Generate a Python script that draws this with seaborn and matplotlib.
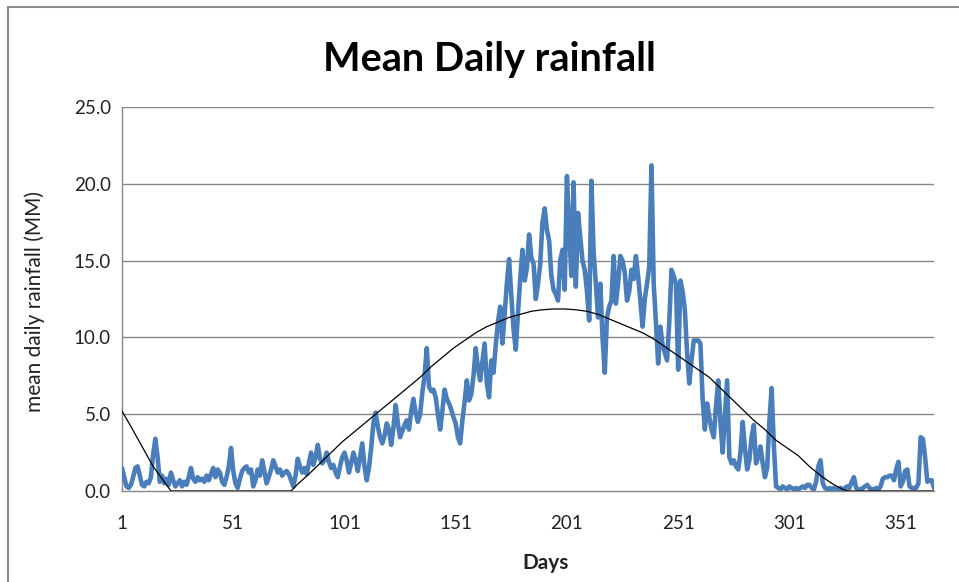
import matplotlib
matplotlib.use("Agg")
import matplotlib.pyplot as plt
from matplotlib.lines import Line2D
import numpy as np
import pandas as pd
import seaborn as sns

# ---- data ----
days = list(range(1, 367))
rain = [
    1.5, 0.9, 0.3, 0.2, 0.4, 0.9, 1.5, 1.6, 1.0, 0.4,
    0.3, 0.6, 0.5, 0.9, 2.4, 3.4, 2.2, 0.6, 1.0, 0.5,
    0.8, 0.4, 1.2, 0.7, 0.3, 0.5, 0.7, 0.3, 0.6, 0.4,
    0.9, 1.5, 0.8, 0.6, 0.9, 0.7, 0.8, 0.6, 1.0, 0.7,
    1.1, 1.5, 0.9, 1.4, 1.2, 0.6, 0.4, 0.9, 1.6, 2.8,
    1.3, 0.5, 0.2, 0.8, 1.3, 1.5, 1.6, 1.2, 1.4, 0.3,
    0.7, 1.4, 1.0, 2.0, 1.3, 0.5, 0.9, 1.4, 2.0, 1.6,
    1.2, 1.4, 1.0, 1.2, 1.3, 1.1, 0.7, 0.3, 1.0, 2.1,
    1.6, 1.2, 1.5, 1.1, 1.8, 2.5, 1.7, 2.2, 3.0, 2.1,
    1.8, 2.0, 2.5, 1.9, 1.5, 1.7, 1.2, 0.9, 1.6, 2.2,
    2.5, 2.0, 1.2, 1.8, 2.5, 2.0, 1.3, 2.2, 3.1, 1.6,
    0.7, 1.5, 2.8, 4.4, 5.1, 4.2, 3.5, 3.1, 3.6, 4.4,
    4.0, 3.0, 4.1, 5.6, 4.4, 3.5, 3.9, 4.3, 4.6, 4.0,
    5.2, 6.0, 5.1, 4.5, 5.0, 6.4, 7.5, 9.3, 6.8, 6.5,
    6.6, 6.1, 5.0, 4.0, 5.2, 6.6, 6.0, 5.7, 5.3, 4.8,
    4.4, 3.5, 3.1, 4.6, 5.8, 7.2, 5.9, 6.3, 7.5, 9.3,
    8.0, 7.2, 8.4, 9.6, 7.0, 6.1, 8.5, 7.7, 9.5, 11.0,
    12.0, 9.6, 11.5, 13.5, 15.1, 12.7, 10.5, 9.2, 11.6, 13.8,
    15.7, 13.7, 14.5, 16.7, 15.2, 14.8, 12.5, 13.5, 14.8, 17.5,
    18.4, 17.0, 16.3, 14.0, 13.1, 12.8, 12.4, 15.0, 15.7, 13.1,
    20.5, 17.0, 14.0, 20.1, 13.3, 18.1, 16.5, 15.0, 14.4, 13.0,
    11.1, 20.2, 15.5, 13.5, 11.3, 13.5, 10.0, 7.7, 11.3, 12.0,
    12.4, 15.3, 12.2, 13.5, 15.3, 15.0, 14.2, 12.4, 13.0, 14.4,
    13.8, 15.3, 14.0, 12.4, 10.7, 12.5, 13.5, 14.6, 21.2, 13.5,
    11.0, 8.3, 10.7, 9.5, 9.0, 8.5, 11.0, 14.4, 14.0, 13.5,
    7.9, 13.7, 13.0, 11.8, 9.0, 7.0, 8.5, 9.8, 9.8, 9.8,
    9.6, 6.0, 4.0, 5.7, 4.8, 4.0, 3.5, 5.5, 7.2, 4.5,
    2.5, 4.8, 7.2, 2.2, 1.8, 2.0, 1.6, 1.4, 2.5, 4.5,
    2.8, 1.4, 2.0, 3.5, 4.3, 1.8, 2.2, 2.9, 1.8, 0.9,
    1.5, 4.5, 6.7, 3.0, 0.3, 0.2, 0.1, 0.3, 0.2, 0.1,
    0.3, 0.2, 0.1, 0.2, 0.1, 0.2, 0.3, 0.2, 0.4, 0.4,
    0.2, 0.1, 0.6, 1.6, 2.0, 0.5, 0.2, 0.1, 0.2, 0.1,
    0.2, 0.1, 0.1, 0.2, 0.1, 0.2, 0.3, 0.2, 0.6, 0.9,
    0.2, 0.1, 0.1, 0.2, 0.3, 0.4, 0.2, 0.1, 0.1, 0.2,
    0.1, 0.3, 0.8, 0.9, 0.9, 1.0, 1.0, 0.7, 1.4, 1.9,
    0.3, 0.6, 1.3, 1.4, 0.3, 0.2, 0.2, 0.2, 0.5, 3.5,
    3.4, 2.2, 0.6, 0.7, 0.7, 0.2,
]

fit_days = [1, 5, 10, 15, 20, 23, 77, 80, 85, 90, 95, 100, 105, 110, 115, 120,
            125, 130, 135, 140, 145, 150, 155, 160, 165, 170, 175, 180, 185,
            190, 195, 200, 205, 210, 215, 220, 225, 230, 235, 240, 245, 250,
            255, 260, 265, 270, 275, 280, 285, 290, 295, 300, 305, 310, 315,
            320, 325, 328, 366]
fit_vals = [5.2, 4.2, 2.9, 1.6, 0.6, 0.0, 0.0, 0.45, 1.1, 1.8, 2.5, 3.2, 3.8,
            4.4, 5.0, 5.6, 6.2, 6.8, 7.4, 8.1, 8.7, 9.3, 9.8, 10.3, 10.7, 11.0,
            11.3, 11.5, 11.7, 11.8, 11.85, 11.85, 11.8, 11.7, 11.5, 11.2, 10.9,
            10.6, 10.3, 9.9, 9.4, 8.9, 8.4, 7.9, 7.4, 6.7, 6.0, 5.3, 4.6, 4.0,
            3.3, 2.8, 2.3, 1.6, 1.0, 0.5, 0.1, 0.0, 0.0]

x_ticks = [1, 51, 101, 151, 201, 251, 301, 351]
y_ticks = [0, 5, 10, 15, 20, 25]

df_rain = pd.DataFrame({"Days": days, "rain": rain})
df_fit = pd.DataFrame({"Days": fit_days, "fit": fit_vals})

sns.set_theme(style="white")
plt.rcParams["font.family"] = ["Lato", "DejaVu Sans"]

fig = plt.figure(figsize=(9.59, 5.82), dpi=100)
ax = fig.add_axes([122 / 959, 1 - 491 / 582, (934 - 122) / 959, (491 - 107) / 582])

grid_c = "#868686"
for yv in y_ticks[1:]:
    ax.axhline(yv, color=grid_c, lw=1.0, zorder=0)

sns.lineplot(data=df_rain, x="Days", y="rain", ax=ax, color="#4A7EBB",
             lw=3.3, zorder=3, solid_joinstyle="round")
sns.lineplot(data=df_fit, x="Days", y="fit", ax=ax, color="black",
             lw=0.9, zorder=4)

ax.set_xlim(1, 366)
ax.set_ylim(0, 25)
ax.set_xticks(x_ticks)
ax.set_xticklabels([str(t) for t in x_ticks])
ax.set_yticks(y_ticks)
ax.set_yticklabels([f"{t:.1f}" for t in y_ticks])
ax.set_xlabel("")
ax.set_ylabel("")

for s in ["top", "right"]:
    ax.spines[s].set_visible(False)
for s in ["left", "bottom"]:
    ax.spines[s].set_color(grid_c)
    ax.spines[s].set_linewidth(1.0)

ax.tick_params(axis="x", length=0, pad=17, labelsize=13.5, labelcolor="#222222")
ax.tick_params(axis="y", direction="out", length=4, width=1, color=grid_c,
               pad=4, labelsize=13.5, labelcolor="#222222")

fig.text(489 / 959, 1 - 59 / 582, "Mean Daily rainfall", ha="center",
         va="center", fontsize=28.5, fontweight="bold", color="black")
fig.text(35 / 959, 1 - 302 / 582, "mean daily rainfall (MM)", rotation=90,
         ha="center", va="center", fontsize=15, color="#222222")
fig.text(546 / 959, 1 - 563 / 582, "Days", ha="center", va="center",
         fontsize=15, fontweight="bold", color="#222222")

# outer chart frame (left and top edges visible in reference)
fig.add_artist(Line2D([8 / 959, 8 / 959], [0, 1 - 7 / 582],
                      transform=fig.transFigure, color="#8c8c8c", lw=1.5))
fig.add_artist(Line2D([8 / 959, 1], [1 - 7 / 582, 1 - 7 / 582],
                      transform=fig.transFigure, color="#8c8c8c", lw=1.5))

fig.savefig("out.png", dpi=100)
